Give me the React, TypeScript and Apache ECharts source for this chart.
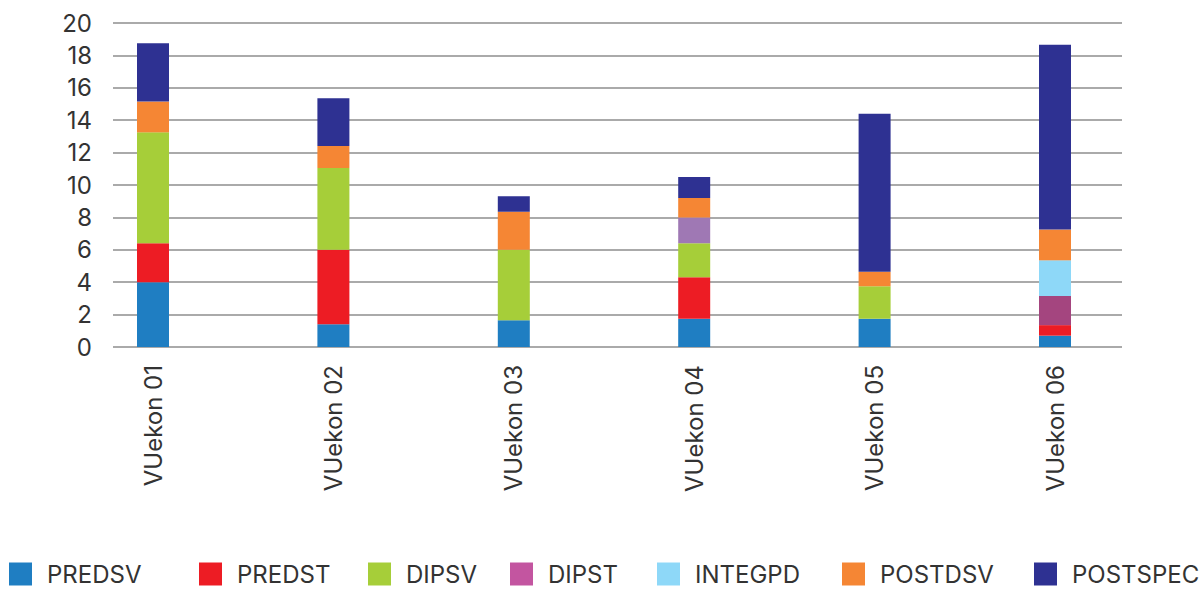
import React, { useEffect, useRef } from "react";
import * as echarts from "echarts";

const categories = ["VUekon 01", "VUekon 02", "VUekon 03", "VUekon 04", "VUekon 05", "VUekon 06"];
const seriesNames = ["PREDSV", "PREDST", "DIPSV", "DIPST", "INTEGPD", "POSTDSV", "POSTSPEC"];
const PREDSV = [4.0, 1.4, 1.65, 1.75, 1.75, 0.7];
const PREDST = [2.4, 4.6, 0, 2.55, 0, 0.65];
const DIPSV = [6.85, 5.05, 4.35, 2.1, 2.0, 0];
const DIPST = [0, 0, 0, 1.6, 0, 1.8];
const INTEGPD = [0, 0, 0, 0, 0, 2.2];
const POSTDSV = [1.9, 1.35, 2.35, 1.2, 0.9, 1.9];
const POSTSPEC = [3.6, 2.95, 0.95, 1.3, 9.75, 11.4];
const seriesValues = [PREDSV, PREDST, DIPSV, DIPST, INTEGPD, POSTDSV, POSTSPEC];
const colors = ["#1F7EC2", "#ED1C24", "#A6CE39", "#C355A0", "#8ED8F8", "#F58634", "#2E3192"];
// per-bar colour overrides seen in the picture for DIPST
const dipstBarColors: (string | null)[] = [null, null, null, "#9F78B4", null, "#A4457F"];
const legendLeft = [9, 199, 368, 510, 657, 842, 1034];

const FONT = "Inter, 'Noto Sans', sans-serif";

export default function App() {
  const ref = useRef<HTMLDivElement>(null);
  useEffect(() => {
    if (!ref.current) return;
    const chart = echarts.init(ref.current, undefined, { renderer: "svg" });
    const series = seriesNames.map((name, si) => ({
      name,
      type: "bar",
      stack: "total",
      xAxisIndex: 1,
      yAxisIndex: 1,
      barWidth: 32,
      clip: false,
      itemStyle: { color: colors[si] },
      data: seriesValues[si].map((v, i) => {
        if (name === "DIPST" && dipstBarColors[i]) {
          return { value: v, itemStyle: { color: dipstBarColors[i] } };
        }
        return v;
      }),
    }));
    chart.setOption({
      animation: false,
      textStyle: { fontFamily: FONT },
      grid: [
        { left: 113, top: 23, width: 1009, height: 324 },
        { left: 153, top: 23, width: 902, height: 324 },
      ],
      xAxis: [
        { gridIndex: 0, type: "category", data: [], show: false },
        {
          gridIndex: 1,
          type: "category",
          data: categories,
          boundaryGap: false,
          axisLine: { show: false },
          axisTick: { show: false },
          axisLabel: { rotate: 90, fontSize: 24, color: "#333", margin: 18, fontFamily: FONT },
        },
      ],
      yAxis: [
        {
          gridIndex: 0,
          type: "value",
          min: 0,
          max: 20,
          interval: 2,
          axisLine: { show: false },
          axisTick: { show: false },
          axisLabel: { fontSize: 24, color: "#333", margin: 21, fontFamily: FONT },
          splitLine: { lineStyle: { color: "#8e8e8e", width: 1.5 } },
        },
        { gridIndex: 1, type: "value", min: 0, max: 20, show: false },
      ],
      legend: seriesNames.map((name, i) => ({
        data: [name],
        left: legendLeft[i],
        top: 562,
        padding: 0,
        itemWidth: 23,
        itemHeight: 23,
        icon: "rect",
        textStyle: {
          fontSize: 24,
          lineHeight: 20,
          color: "#333",
          fontFamily: FONT,
          padding: [0, 0, 0, 10],
        },
      })),
      series,
    });
    return () => chart.dispose();
  }, []);
  return (
    <div
      ref={ref}
      style={{ position: "fixed", left: 0, top: 0, width: 1204, height: 589, background: "#fff" }}
    />
  );
}
